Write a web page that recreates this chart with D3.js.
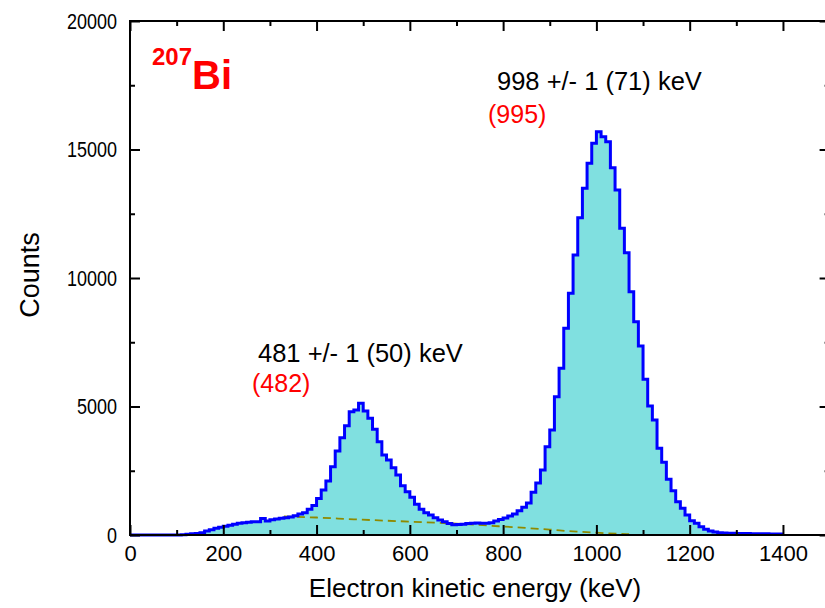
<!DOCTYPE html>
<html>
<head>
<meta charset="utf-8">
<script src="https://cdn.jsdelivr.net/npm/d3@7/dist/d3.min.js"></script>
<style>
  body { margin: 0; background: #fff; }
  svg { display: block; }
  text { font-family: "Liberation Sans", Arial, sans-serif; }
</style>
</head>
<body>
<svg id="chart" width="825" height="608"></svg>
<script>
// 207Bi conversion-electron spectrum, 10 keV bins from 0 to 1400 keV
const binWidth = 10;
const counts = [
  0, 0, 0, 0, 0, 0, 0, 0, 0, 0,                                   // 0-90
  3, 8, 26, 45, 55, 91, 156, 208, 259, 298,                       // 100-190
  337, 376, 415, 454, 480, 493, 519, 520, 640, 540,               // 200-290
  597, 623, 648, 674, 700, 745, 817, 870, 1000, 1150,             // 300-390
  1420, 1751, 2101, 2659, 3268, 3787, 4254, 4799, 4864, 5123,     // 400-490
  4825, 4540, 4111, 3632, 3113, 2918, 2620, 2335, 1920, 1686,     // 500-590
  1470, 1200, 1000, 869, 778, 674, 584, 519, 450, 400,            // 600-690
  405, 420, 450, 460, 470, 454, 454, 480, 540, 600,               // 700-790
  660, 740, 820, 940, 1080, 1250, 1660, 2020, 2529, 3437,         // 800-890
  4086, 5383, 6485, 8041, 9403, 10895, 12348, 13489, 14462, 15240,// 900-990
  15694, 15500, 15305, 14293, 13424, 11933, 10986, 9468, 8301, 7354, // 1000-1090
  6057, 5019, 4475, 3372, 2827, 2170, 1720, 1297, 1038, 778,      // 1100-1190
  558, 454, 324, 221, 156, 117, 90, 80, 70, 65,                   // 1200-1290
  60, 55, 55, 50, 50, 45, 45, 40, 40, 35                          // 1300-1390
];

// fitted background under the peaks
const backgroundEnergy = [330, 400, 480, 600, 700, 800, 900, 950, 1000, 1070];
const backgroundCounts = [720, 680, 610, 520, 440, 330, 210, 140, 90, 30];

const xMajorTicks = [0, 200, 400, 600, 800, 1000, 1200, 1400];
const xMinorTicks = [100, 300, 500, 700, 900, 1100, 1300, 1500];
const yMajorTicks = [0, 5000, 10000, 15000, 20000];
const yMinorTicks = [2500, 7500, 12500, 17500];

const peakFits = ["481 +/- 1 (50) keV", "998 +/- 1 (71) keV"];
const peakReference = ["(482)", "(995)"];

const svg = d3.select("#chart");
const x = d3.scaleLinear().domain([0, 1500]).range([130, 829.6]);
const y = d3.scaleLinear().domain([0, 20000]).range([535, 21]);

const hist = counts.map((c, i) => ({ e: i * binWidth, c }));
hist.push({ e: counts.length * binWidth, c: counts[counts.length - 1] });

// filled histogram
svg.append("path")
  .datum(hist)
  .attr("fill", "#80e0e0")
  .attr("d", d3.area().curve(d3.curveStepAfter)
    .x(d => x(d.e)).y0(y(0)).y1(d => y(d.c)));

// background curve
const bg = backgroundEnergy.map((e, i) => ({ e, c: backgroundCounts[i] }));
svg.append("path")
  .datum(bg)
  .attr("fill", "none")
  .attr("stroke", "#8f8a00")
  .attr("stroke-width", 1.8)
  .attr("stroke-dasharray", "8,5")
  .attr("d", d3.line().curve(d3.curveMonotoneX).x(d => x(d.e)).y(d => y(d.c)));

// histogram outline
svg.append("path")
  .datum(hist)
  .attr("fill", "none")
  .attr("stroke", "#0000ff")
  .attr("stroke-width", 3)
  .attr("stroke-linejoin", "miter")
  .attr("d", d3.line().curve(d3.curveStepAfter).x(d => x(d.e)).y(d => y(d.c)));

// axes with inward ticks
function styleAxis(g) {
  g.select(".domain").remove();
  g.selectAll(".tick line").attr("stroke", "#000").attr("stroke-width", 2);
  g.selectAll(".tick text").attr("fill", "#000").style("font-size", "22px");
}
const noLabel = () => "";

svg.append("g").attr("transform", `translate(0,${y(0)})`)
  .call(d3.axisBottom(x).tickValues(xMinorTicks).tickSize(-5).tickFormat(noLabel)).call(styleAxis);
svg.append("g").attr("transform", `translate(0,${y(0)})`)
  .call(d3.axisBottom(x).tickValues(xMajorTicks).tickSize(-10).tickPadding(10).tickFormat(d3.format("d"))).call(styleAxis);
svg.append("g").attr("transform", `translate(0,${y(20000)})`)
  .call(d3.axisTop(x).tickValues(xMinorTicks).tickSize(-5).tickFormat(noLabel)).call(styleAxis);
svg.append("g").attr("transform", `translate(0,${y(20000)})`)
  .call(d3.axisTop(x).tickValues(xMajorTicks).tickSize(-10).tickFormat(noLabel)).call(styleAxis);

svg.append("g").attr("transform", `translate(${x(0)},0)`)
  .call(d3.axisLeft(y).tickValues(yMinorTicks).tickSize(-5).tickFormat(noLabel)).call(styleAxis);
const yAxisG = svg.append("g").attr("transform", `translate(${x(0)},0)`)
  .call(d3.axisLeft(y).tickValues(yMajorTicks).tickSize(-10).tickPadding(13).tickFormat(d3.format("d"))).call(styleAxis);
// condensed digits on the count axis
yAxisG.selectAll(".tick text")
  .attr("textLength", d => String(d).length * 10)
  .attr("lengthAdjust", "spacingAndGlyphs");
svg.append("g").attr("transform", `translate(${x(1500)},0)`)
  .call(d3.axisRight(y).tickValues(yMinorTicks).tickSize(-5).tickFormat(noLabel)).call(styleAxis);
svg.append("g").attr("transform", `translate(${x(1500)},0)`)
  .call(d3.axisRight(y).tickValues(yMajorTicks).tickSize(-10).tickFormat(noLabel)).call(styleAxis);

// frame
svg.append("rect")
  .attr("x", x(0)).attr("y", y(20000))
  .attr("width", x(1500) - x(0)).attr("height", y(0) - y(20000))
  .attr("fill", "none").attr("stroke", "#000").attr("stroke-width", 2);

// axis titles
svg.append("text")
  .attr("x", 475).attr("y", 597)
  .attr("text-anchor", "middle")
  .style("font-size", "26px")
  .text("Electron kinetic energy (keV)");
svg.append("text")
  .attr("transform", "translate(39,275) rotate(-90)")
  .attr("text-anchor", "middle")
  .style("font-size", "27px")
  .text("Counts");

// isotope label
const iso = svg.append("text").attr("x", 152).attr("y", 89).attr("fill", "#ff0000").style("font-weight", "bold");
iso.append("tspan").attr("dy", -24).style("font-size", "24px").text("207");
iso.append("tspan").attr("dy", 24).style("font-size", "40px").text("Bi");

// peak annotations
svg.append("text").attr("x", 258).attr("y", 362).style("font-size", "25.5px").text(peakFits[0]);
svg.append("text").attr("x", 252).attr("y", 392).attr("fill", "#ff0000").style("font-size", "25px").text(peakReference[0]);
svg.append("text").attr("x", 497).attr("y", 90).style("font-size", "25.5px").text(peakFits[1]);
svg.append("text").attr("x", 488).attr("y", 123).attr("fill", "#ff0000").style("font-size", "25px").text(peakReference[1]);
</script>
</body>
</html>
